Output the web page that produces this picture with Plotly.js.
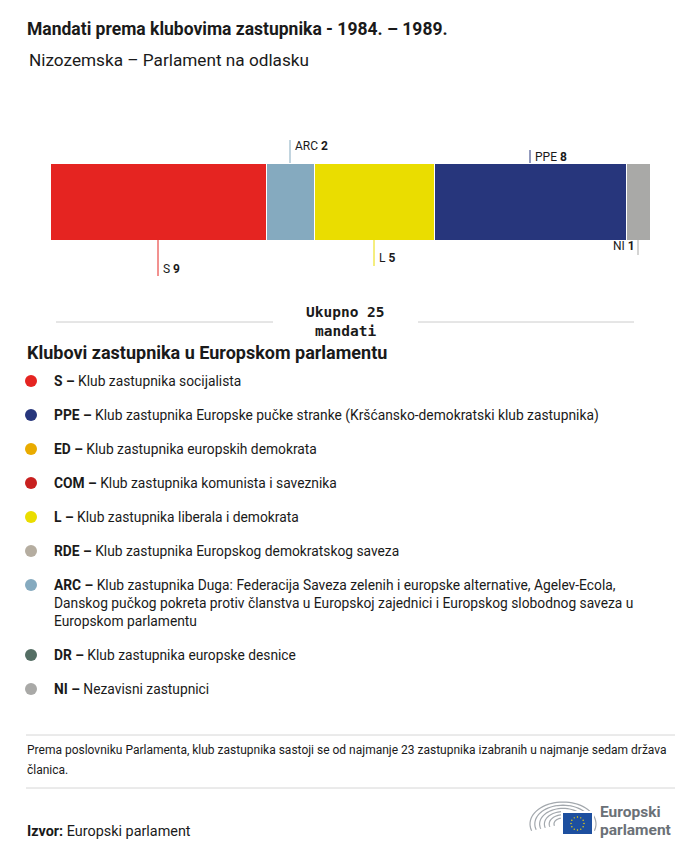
<!DOCTYPE html>
<html><head><meta charset="utf-8">
<script src="https://cdn.plot.ly/plotly-3.0.1.min.js"></script>
<style>body{margin:0;background:#fff}</style>
</head><body><div id="chart" style="width:700px;height:856px"></div>
<script>
// ---- data ----
const groups = ['S', 'ARC', 'L', 'PPE', 'NI'];
const seats = [9, 2, 5, 8, 1];
const groupColors = ['#E52421', '#85AABF', '#EADD00', '#27367C', '#A9A9A7'];
const totalSeats = 25;

const legendCodes = ['S', 'PPE', 'ED', 'COM', 'L', 'RDE', 'ARC', 'DR', 'NI'];
const legendNames = [
  ['Klub zastupnika socijalista'],
  ['Klub zastupnika Europske pučke stranke (Kršćansko-demokratski klub zastupnika)'],
  ['Klub zastupnika europskih demokrata'],
  ['Klub zastupnika komunista i saveznika'],
  ['Klub zastupnika liberala i demokrata'],
  ['Klub zastupnika Europskog demokratskog saveza'],
  ['Klub zastupnika Duga: Federacija Saveza zelenih i europske alternative, Agelev-Ecola,',
   'Danskog pučkog pokreta protiv članstva u Europskoj zajednici i Europskog slobodnog saveza u',
   'Europskom parlamentu'],
  ['Klub zastupnika europske desnice'],
  ['Nezavisni zastupnici']
];
const legendColors = ['#E52421', '#27367C', '#E9AB00', '#C8201F', '#EADD00', '#B5ADA0', '#85AABF', '#546E64', '#A9A9A7'];

const titleText = 'Mandati prema klubovima zastupnika - 1984. – 1989.';
const subtitleText = 'Nizozemska – Parlament na odlasku';
const totalText = ['Ukupno ' + totalSeats, 'mandati'];
const legendTitle = 'Klubovi zastupnika u Europskom parlamentu';
const noteLines = ['Prema poslovniku Parlamenta, klub zastupnika sastoji se od najmanje 23 zastupnika izabranih u najmanje sedam država', 'članica.'];
const sourceLabel = 'Izvor:';
const sourceText = 'Europski parlament';

// ---- layout styling (pixel positions) ----
const W = 700, H = 856;
const px = x => x / W;
const py = y => 1 - y / H;
const barTop = 163, barBottom = 240;
const labelStyle = {
  S:   {side: 'below', end: 276, ty: 269},
  ARC: {side: 'above', end: 140, ty: 146},
  L:   {side: 'below', end: 266, ty: 258},
  PPE: {side: 'above', end: 150, ty: 157},
  NI:  {side: 'below', end: 255, ty: 246, left: true}
};
const FONT = 'Roboto, "Liberation Sans", sans-serif';
const TXT = '#1a1a1a';

const traces = groups.map((g, i) => ({
  type: 'bar', orientation: 'h', y: [0], x: [seats[i]], name: g, width: 1,
  marker: {color: groupColors[i], line: {color: '#ffffff', width: 1}},
  hoverinfo: 'x+name', showlegend: false
}));

const shapes = [], annotations = [];
let cum = 0;
groups.forEach((g, i) => {
  const mid = cum + seats[i] / 2;
  cum += seats[i];
  const st = labelStyle[g];
  const y0 = st.side === 'below' ? barBottom : barTop;
  shapes.push({type: 'line', xref: 'x', yref: 'paper', x0: mid, x1: mid, y0: py(y0), y1: py(st.end),
    line: {color: groupColors[i], width: 1}});
  annotations.push({xref: 'x', yref: 'paper', x: mid, y: py(st.ty), xanchor: st.left ? 'right' : 'left',
    xshift: st.left ? -2 : 4, yanchor: 'middle', showarrow: false, borderpad: 0,
    text: g + ' <b>' + seats[i] + '</b>', font: {family: FONT, size: 12, color: TXT}});
});

function txt(x, y, text, size, opts) {
  annotations.push(Object.assign({xref: 'paper', yref: 'paper', x: px(x), y: py(y), xanchor: 'left', yanchor: 'middle',
    showarrow: false, borderpad: 0, text: text, font: {family: FONT, size: size, color: TXT}}, opts || {}));
}
function hline(x0, x1, y, color) {
  shapes.push({type: 'line', xref: 'paper', yref: 'paper', x0: px(x0), x1: px(x1), y0: py(y), y1: py(y), line: {color: color, width: 1}});
}

txt(26, 29, '<b>' + titleText + '</b>', 17.5);
txt(28, 60, subtitleText, 17.2);

// total
hline(56, 273, 322, '#cccccc');
hline(418, 634, 322, '#cccccc');
const mono = {family: '"DejaVu Sans Mono", monospace', size: 14.5, color: TXT};
txt(345, 312, '<b>' + totalText[0] + '</b>', 14.5, {xanchor: 'center', font: mono});
txt(345, 331, '<b>' + totalText[1] + '</b>', 14.5, {xanchor: 'center', font: mono});

txt(26, 352, '<b>' + legendTitle + '</b>', 18);

// legend entries
let ly = 381;
legendCodes.forEach((c, i) => {
  const r = 6;
  shapes.push({type: 'circle', xref: 'paper', yref: 'paper', x0: px(31 - r), x1: px(31 + r), y0: py(ly - r), y1: py(ly + r),
    fillcolor: legendColors[i], line: {width: 0}});
  legendNames[i].forEach((line, j) => {
    txt(53, ly + j * 18, (j === 0 ? '<b>' + c + ' –</b> ' : '') + line, 13.8);
  });
  ly += 34 + (legendNames[i].length - 1) * 18;
});

// footer
hline(26, 675, 735, '#d6d6d6');
txt(26, 750, noteLines[0], 12);
txt(26, 770, noteLines[1], 12);
hline(26, 675, 788, '#d6d6d6');
txt(26, 831, '<b>' + sourceLabel + '</b> ' + sourceText, 14.4);

// logo: hemicycle arcs
const cx = 563, cy = 824;
for (let k = 0; k < 6; k++) {
  const rx = 33 - k * 4.8, ry = 22 - k * 3.2;
  let d = '';
  for (let a = 0; a <= 40; a++) {
    const t = Math.PI * (0.9 + a / 40 * 1.2);
    const x = cx + rx * Math.cos(t), y = cy + ry * Math.sin(t);
    d += (a === 0 ? 'M' : 'L') + px(x).toFixed(5) + ',' + py(y).toFixed(5);
  }
  shapes.push({type: 'path', xref: 'paper', yref: 'paper', path: d, line: {color: '#a3a8ad', width: 1.2}});
}
// flag
shapes.push({type: 'rect', xref: 'paper', yref: 'paper', x0: px(561), x1: px(594), y0: py(811), y1: py(836), fillcolor: '#ffffff', line: {width: 0}});
shapes.push({type: 'rect', xref: 'paper', yref: 'paper', x0: px(563), x1: px(592), y0: py(813), y1: py(834), fillcolor: '#1D4F9F', line: {width: 0}});
for (let s = 0; s < 12; s++) {
  const t = s / 12 * 2 * Math.PI;
  const sx = 577.5 + 6.5 * Math.cos(t), sy = 823.5 + 6.5 * Math.sin(t);
  shapes.push({type: 'circle', xref: 'paper', yref: 'paper', x0: px(sx - 0.7), x1: px(sx + 0.7), y0: py(sy - 0.7), y1: py(sy + 0.7), fillcolor: '#FFDD00', line: {width: 0}});
}
const logoFont = {family: FONT, size: 15.5, color: '#6B7177'};
txt(599, 812, '<b>Europski</b>', 15.5, {font: logoFont});
txt(599, 830, '<b>parlament</b>', 15.5, {font: logoFont});

const layout = {
  width: W, height: H, margin: {l: 0, r: 0, t: 0, b: 0},
  paper_bgcolor: '#ffffff', plot_bgcolor: '#ffffff',
  barmode: 'stack', bargap: 0,
  xaxis: {range: [0, totalSeats], domain: [px(50), px(650)], visible: false, fixedrange: true},
  yaxis: {range: [-0.5, 0.5], domain: [py(barBottom), py(barTop)], visible: false, fixedrange: true},
  shapes: shapes, annotations: annotations, showlegend: false,
  font: {family: FONT}
};
Plotly.newPlot('chart', traces, layout, {displayModeBar: false, staticPlot: true});
</script></body></html>
